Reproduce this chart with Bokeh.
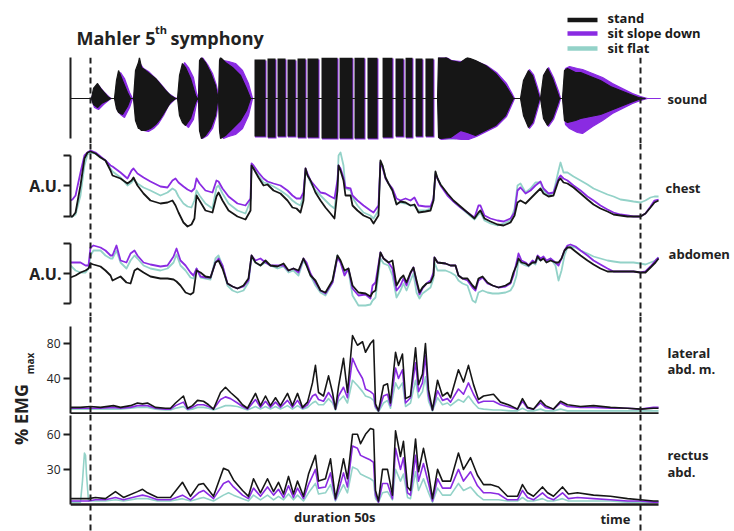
import numpy as np
from bokeh.plotting import figure
from bokeh.models import Range1d, Span, FixedTicker, LinearAxis
from bokeh.layouts import column, row
from bokeh.embed import file_html
from bokeh.resources import INLINE
from bokeh.core.properties import value

FONT = "Open Sans"
C_STAND = "#161616"
C_SLOPE = "#8a2be2"
C_FLAT = "#93d2c8"
INK = "#1e1e1e"

series_names = ["stand", "sit slope down", "sit flat"]
marks = [0.0, 50.0]          # start / end of the 50 s excerpt (s)

# ---------------- sound envelope (arbitrary amplitude) ----------------
snd_t_stand = [-1.82, 0.09, 0.27, 0.64, 1.0, 1.55, 1.82, 2.18, 2.36, 2.55, 2.91, 3.36, 3.64,
               3.91, 4.09, 4.36, 4.45, 4.64, 5.0, 5.45, 5.91, 6.36, 6.82, 7.27, 7.73,
               7.91, 8.09, 8.36, 8.64, 9.09, 9.55, 9.73, 9.82, 9.91, 10.09, 10.45, 10.91, 11.36, 11.55, 11.64,
               11.73, 11.82, 12.27, 12.91, 13.64, 14.18, 14.55,
               31.55, 31.64, 31.82, 32.73, 33.64, 34.27, 35.0, 35.91, 36.82, 37.73, 38.18, 38.45,
               39.09, 39.36, 39.82, 40.18, 40.55, 40.82, 40.91, 41.18, 41.55, 42.0, 42.45, 42.64,
               42.91, 43.09, 43.36, 44.09, 44.55, 45.45, 46.36, 47.27, 48.18, 49.09, 49.82, 50.45]
snd_up_stand = [0, 0, 10, 15, 9, 2, 0, 0, 18, 28, 18, 6, 0,
                0, 28, 36, 41, 31, 28, 24, 20, 14, 8, 3, 0,
                0, 23, 35, 31, 20, 3, 0, 0, 38, 41, 36, 26, 13, 3, 0,
                38, 41, 36, 31, 23, 10, 0,
                0, 43, 45, 38, 36, 41, 38, 33, 25, 13, 5, 0,
                0, 18, 28, 23, 10, 0, 0, 23, 30, 20, 6, 0,
                0, 28, 30, 26, 26, 22, 18, 12, 8, 4, 1, 0]
snd_dn_stand = [0, 0, -6, -9, -5, -2, 0, 0, -10, -14, -16, -8, 0,
                0, -22, -30, -30, -32, -32, -30, -26, -20, -12, -4, 0,
                0, -17, -24, -27, -20, -4, 0, 0, -32, -40, -37, -30, -17, -3, 0,
                -32, -40, -37, -30, -22, -12, 0,
                0, -39, -40, -39, -32, -34, -37, -32, -27, -17, -6, 0,
                0, -17, -29, -24, -10, 0, 0, -20, -27, -20, -6, 0,
                0, -22, -24, -22, -20, -18, -16, -12, -8, -4, -1, 0]
snd_t_slope = [-1.82, 0.09, 0.36, 0.73, 1.18, 1.73, 1.91, 2.27, 2.45, 2.73, 3.09, 3.55, 3.82,
               3.95, 4.18, 4.45, 4.82, 5.27, 5.73, 6.18, 6.64, 7.09, 7.64, 7.91,
               8.0, 8.27, 8.55, 8.91, 9.36, 9.64, 9.8, 9.95, 10.18, 10.64, 11.09, 11.45, 11.64, 11.7,
               11.8, 12.09, 12.55, 13.18, 13.82, 14.36, 14.73,
               31.64, 31.73, 31.91, 32.82, 33.73, 34.36, 35.09, 36.0, 36.91, 37.82, 38.27, 38.55,
               39.18, 39.45, 39.91, 40.27, 40.64, 40.91, 41.0, 41.27, 41.64, 42.09, 42.55, 42.73,
               42.95, 43.18, 43.55, 44.27, 44.73, 45.64, 46.55, 47.45, 48.36, 49.27, 50.0, 50.64, 51.82]
snd_up_slope = [0, 0, 9, 13, 7, 1, 0, 0, 16, 26, 20, 6, 0,
                0, 26, 36, 30, 27, 22, 17, 11, 5, 1, 0,
                0, 22, 36, 31, 21, 5, 0, 38, 41, 34, 25, 13, 3, 0,
                40, 38, 37, 35, 28, 15, 0,
                0, 42, 44, 38, 37, 40, 37, 33, 26, 15, 6, 0,
                0, 19, 29, 24, 11, 0, 0, 24, 31, 21, 7, 0,
                0, 30, 32, 30, 29, 25, 21, 15, 10, 5, 2, 0, 0]
snd_dn_slope = [0, 0, -9, -11, -6, -1, 0, 0, -12, -16, -19, -9, 0,
                0, -22, -30, -32, -33, -30, -25, -17, -7, -1, 0,
                0, -18, -25, -29, -21, -5, 0, -32, -40, -37, -30, -17, -3, 0,
                -35, -40, -38, -36, -30, -17, 0,
                0, -40, -41, -40, -41, -41, -38, -33, -28, -18, -7, 0,
                0, -18, -30, -25, -11, 0, 0, -21, -28, -21, -7, 0,
                0, -26, -30, -34, -35, -28, -22, -15, -10, -5, -2, 0, 0]
snd_t_flat = [-1.82, 0.09, 0.55, 1.27, 1.82, 2.18, 2.55, 3.45, 3.64, 3.91, 4.45, 5.45, 7.73,
              7.91, 8.45, 9.73, 9.82, 10.09, 11.55, 11.64, 11.82, 14.55,
              31.55, 31.82, 32.27, 33.18, 34.27, 35.91, 38.45, 39.09, 39.82, 40.82,
              40.91, 41.55, 42.64, 42.91, 43.36, 46.36, 50.45]
snd_up_flat = [0, 0, 12, 4, 0, 0, 22, 4, 0, 0, 34, 22, 0,
               0, 30, 0, 0, 38, 3, 0, 38, 0,
               0, 40, 38, 35, 36, 30, 0, 0, 25, 0,
               0, 27, 0, 0, 27, 15, 0]
snd_dn_flat = [0, 0, -11, -4, 0, 0, -13, -6, 0, 0, -28, -27, 0,
               0, -22, 0, 0, -38, -3, 0, -38, 0,
               0, -38, -41, -41, -35, -30, 0, 0, -26, 0,
               0, -24, 0, 0, -22, -14, 0]
# dense (fortissimo) bursts: onset / offset (s) and peak amplitudes
burst_on_stand = [14.91, 16.09, 17.0, 17.91, 18.82, 19.73, 21.0, 22.64, 24.0, 25.18, 26.55, 27.73, 28.64, 29.55, 30.45]
burst_off_stand = [15.91, 16.82, 17.73, 18.64, 19.55, 20.73, 22.45, 23.82, 24.91, 26.09, 27.45, 28.45, 29.27, 30.18, 31.18]
burst_top_stand = [39, 40, 40, 39, 40, 40, 41, 41, 41, 41, 41, 40, 41, 40, 40]
burst_bot_stand = [-38, -39, -38, -38, -39, -39, -40, -40, -40, -40, -39, -38, -39, -38, -38]
burst_on_slope = [14.95, 16.14, 17.05, 17.95, 18.86, 19.77, 21.05, 22.68, 24.05, 25.23, 26.6, 27.77, 28.68, 29.6, 30.5]
burst_off_slope = [16.0, 16.91, 17.82, 18.73, 19.64, 20.82, 22.55, 23.91, 25.0, 26.18, 27.55, 28.55, 29.36, 30.27, 31.27]
burst_top_slope = [38, 39, 39, 38, 39, 39, 40, 40, 40, 40, 40, 39, 40, 39, 39]
burst_bot_slope = [-39, -40, -39, -39, -40, -40, -41, -41, -41, -41, -40, -39, -40, -39, -39]

# ---------------- chest (A.U.) ----------------
chest_t = [-1.82, -1.64, -1.36, -0.91, -0.55, -0.27, 0.0, 0.45, 0.91, 1.36, 1.82, 2.0, 2.73, 3.36, 3.73, 3.91,
           4.27, 4.82, 5.45, 6.36, 7.0, 7.45, 7.73, 8.0, 8.45, 8.82, 9.18, 9.45, 9.64, 9.91, 10.45, 11.09,
           11.45, 11.64, 12.0, 12.55, 13.36, 14.09, 14.55, 14.64, 14.82, 15.27, 15.73, 16.09, 16.64, 17.27,
           17.91, 18.36, 18.73, 19.09, 19.36, 19.55, 19.73, 20.0, 20.45, 20.91, 21.36, 21.82, 22.18, 22.45,
           22.55, 22.73, 23.0, 23.18, 23.64, 23.82, 24.27, 24.82, 25.45, 25.73, 26.18, 26.36, 26.55, 26.82,
           27.09, 27.45, 27.82, 28.18, 28.64, 29.09, 29.45, 29.82, 30.45, 30.91, 31.18, 31.36, 31.55, 31.82,
           32.45, 33.0, 33.64, 34.27, 34.91, 35.27, 35.45, 35.82, 36.36, 37.0, 37.55, 38.18, 38.55, 38.82,
           39.09, 39.55, 40.0, 40.45, 40.91, 41.18, 41.64, 42.09, 42.55, 42.73, 43.0, 43.36, 43.91, 44.55,
           45.18, 45.73, 46.36, 47.0, 47.55, 48.18, 48.82, 49.36, 50.0, 50.45, 50.91, 51.27, 51.64]
chest_stand = [0, 0, 4, 31, 58, 64, 65, 63, 59, 56, 46, 41, 38, 33, 36, 39,
               31, 23, 16, 13, 14, 16, 11, 4, -6, -10, -8, -2, 21, 16, 6, 4,
               20, 24, 16, 6, 0, -3, 6, 51, 48, 39, 31, 32, 26, 23,
               16, 9, 8, 4, 16, 48, 41, 36, 24, 16, 9, 3, -2, 26,
               51, 46, 36, 21, 21, 11, 6, 1, -2, -7, 1, 56, 51, 39,
               33, 26, 12, 15, 14, 11, 12, 4, 5, 6, 16, 45, 38, 32,
               23, 16, 10, 4, -2, 4, 6, -2, -5, -8, -9, -6, 1, 14,
               16, 13, 18, 23, 28, 23, 20, 21, 36, 38, 34, 33, 29, 23,
               17, 12, 8, 5, 2, 1, 0, 0, 0, 3, 9, 14, 16]
chest_slope = [16, 17, 21, 44, 61, 64, 66, 64, 60, 56, 51, 50, 44, 38, 46, 48,
               43, 39, 35, 30, 29, 36, 38, 34, 30, 27, 25, 28, 38, 33, 26, 24,
               36, 35, 28, 20, 13, 11, 18, 53, 51, 44, 38, 35, 33, 31,
               26, 21, 18, 18, 24, 48, 43, 36, 30, 24, 23, 20, 18, 36,
               51, 48, 39, 29, 28, 21, 16, 11, 6, 4, 11, 54, 49, 38,
               33, 28, 18, 16, 18, 16, 19, 11, 10, 10, 18, 42, 38, 31,
               21, 15, 9, 4, -1, 11, 11, 1, -2, -4, -5, -2, 4, 26,
               29, 23, 26, 31, 35, 28, 23, 24, 38, 41, 38, 36, 31, 26,
               20, 16, 11, 7, 4, 2, 1, 0, 0, 3, 10, 16, 17]
chest_flat = [-1, 0, 2, 21, 51, 62, 64, 63, 59, 56, 48, 45, 39, 31, 34, 37,
              33, 29, 26, 21, 24, 28, 26, 20, 13, 10, 9, 16, 26, 21, 13, 8,
              29, 31, 23, 13, 6, 3, 16, 51, 48, 41, 34, 33, 30, 26,
              21, 16, 13, 11, 21, 46, 41, 34, 26, 21, 16, 11, 8, 31,
              61, 64, 51, 28, 26, 19, 11, 4, 1, -2, 6, 54, 51, 39,
              33, 26, 13, 14, 13, 11, 11, 6, 6, 8, 16, 44, 38, 32,
              22, 15, 9, 3, -3, 2, 4, -4, -7, -9, -7, -4, 8, 31,
              33, 24, 28, 34, 34, 26, 21, 24, 46, 54, 44, 44, 40, 36,
              32, 28, 25, 22, 20, 17, 16, 15, 14, 16, 19, 20, 20]

# ---------------- abdomen (A.U.) ----------------
abd_t = [-1.82, -1.36, -0.91, -0.45, -0.18, 0.0, 0.27, 0.91, 1.36, 1.82, 2.0, 2.36, 2.73, 3.27, 3.64, 4.0,
         4.27, 4.82, 5.45, 6.36, 7.0, 7.55, 7.82, 8.18, 8.64, 9.09, 9.36, 9.64, 10.0, 10.45, 10.91, 11.36,
         11.64, 12.0, 12.45, 12.91, 13.36, 13.91, 14.36, 14.64, 15.0, 15.45, 15.91, 16.36, 17.0, 17.55,
         18.0, 18.45, 18.91, 19.36, 19.64, 20.0, 20.45, 20.91, 21.36, 22.0, 22.45, 22.73, 23.09, 23.45,
         23.82, 24.36, 25.0, 25.45, 25.64, 25.91, 26.36, 26.64, 27.09, 27.45, 27.82, 28.18, 28.45, 28.73,
         29.09, 29.36, 29.64, 29.91, 30.18, 30.55, 30.91, 31.18, 31.27, 31.55, 32.27, 32.73, 33.18, 33.45,
         33.82, 34.27, 34.73, 35.0, 35.27, 35.64, 36.09, 36.55, 37.09, 37.73, 38.18, 38.45, 38.73, 38.91,
         39.18, 39.55, 39.82, 40.18, 40.45, 40.64, 40.91, 41.18, 41.45, 41.82, 42.27, 42.55, 42.82, 43.09,
         43.36, 43.64, 44.09, 44.55, 45.18, 45.73, 46.36, 47.0, 47.55, 48.18, 48.82, 49.36, 50.0, 50.45,
         50.91, 51.36, 51.64]
abd_stand = [26, 28, 31, 33, 35, 40, 39, 37, 33, 28, 23, 25, 27, 21, 20, 33,
             35, 31, 27, 25, 25, 24, 22, 18, 11, 9, 11, 33, 31, 27, 26, 41,
             43, 35, 20, 17, 15, 18, 25, 48, 41, 38, 43, 38, 37, 40,
             33, 35, 33, 45, 38, 28, 23, 13, 11, 23, 48, 43, 33, 35,
             18, 11, 10, 7, 11, 13, 51, 45, 41, 43, 18, 25, 28, 21,
             31, 36, 23, 11, 16, 20, 21, 28, 46, 41, 40, 38, 38, 28,
             25, 25, 18, 15, 25, 27, 21, 18, 16, 18, 21, 31, 38, 45,
             41, 40, 38, 41, 41, 47, 43, 45, 41, 43, 41, 41, 45, 53,
             56, 56, 52, 48, 43, 39, 35, 32, 32, 32, 32, 32, 31, 31,
             36, 41, 45]
abd_slope = [41, 41, 41, 38, 38, 56, 58, 56, 53, 48, 48, 58, 43, 41, 50, 53,
             48, 41, 39, 37, 38, 47, 55, 43, 38, 31, 28, 35, 27, 26, 26, 41,
             45, 38, 20, 17, 15, 17, 23, 48, 43, 45, 41, 38, 38, 38,
             33, 35, 31, 45, 41, 30, 21, 13, 10, 21, 46, 41, 28, 35,
             15, 8, 9, 5, 18, 21, 51, 45, 41, 35, 13, 18, 25, 18,
             30, 36, 21, 9, 15, 20, 23, 31, 46, 41, 40, 38, 38, 28,
             25, 23, 16, 13, 23, 26, 20, 18, 16, 17, 20, 28, 41, 50,
             43, 41, 38, 43, 41, 48, 45, 47, 43, 45, 41, 38, 45, 53,
             58, 59, 57, 53, 48, 43, 39, 35, 32, 32, 32, 32, 31, 32,
             37, 43, 46]
abd_flat = [38, 33, 31, 31, 35, 48, 53, 53, 48, 45, 45, 53, 41, 35, 43, 48,
            45, 38, 35, 33, 35, 41, 49, 38, 33, 26, 25, 35, 26, 25, 24, 45,
            48, 38, 18, 13, 11, 13, 21, 46, 41, 38, 41, 38, 35, 37,
            31, 33, 28, 43, 38, 28, 18, 11, 8, 21, 48, 41, 31, 33,
            8, -2, -2, -1, 3, 6, 45, 40, 38, 28, 6, 13, 20, 13,
            23, 30, 11, 5, 10, 13, 16, 25, 41, 33, 33, 31, 28, 23,
            20, 18, 3, 1, 11, 13, 11, 10, 10, 11, 13, 18, 28, 43,
            40, 38, 37, 41, 39, 45, 43, 46, 42, 45, 38, 23, 33, 48,
            56, 57, 56, 53, 50, 47, 45, 43, 42, 41, 41, 41, 40, 39,
            41, 43, 46]

# ---------------- lateral abdominal muscles (% EMG max) ----------------
lat_t = [-1.82, -0.91, 0.0, 0.91, 2.09, 2.73, 3.64, 4.27, 4.73, 5.18,
         5.91, 6.82, 7.27, 7.73, 8.09, 8.45, 8.82, 9.27, 9.73, 10.27,
         10.73, 11.18, 11.82, 12.27, 12.73, 13.36, 13.82, 14.27, 15.0, 15.45,
         15.91, 16.36, 16.82, 17.27, 17.91, 18.36, 18.82, 19.27, 19.73, 20.18,
         20.45, 20.73, 21.18, 21.64, 22.0, 22.27, 22.55, 23.0, 23.36, 23.82,
         24.27, 24.73, 25.0, 25.45, 25.73, 25.91, 26.18, 26.64, 27.0, 27.27,
         27.73, 28.0, 28.36, 28.64, 29.09, 29.55, 29.82, 30.18, 30.45, 30.73,
         31.09, 31.55, 32.0, 32.45, 32.73, 33.45, 33.91, 34.36, 34.82, 35.27,
         35.73, 36.64, 37.27, 38.18, 38.82, 39.27, 39.73, 40.27, 40.91, 41.36,
         42.09, 42.73, 43.36, 44.55, 45.73, 47.27, 48.82, 50.0, 51.18, 51.64]
lat_stand = [7, 7, 8, 7, 9, 7, 9, 12, 11, 12,
             7, 6, 6, 12, 16, 20, 6, 9, 15, 14,
             10, 5, 24, 30, 24, 17, 10, 6, 23, 9,
             20, 9, 18, 9, 23, 9, 23, 7, 13, 35,
             55, 24, 20, 43, 24, 5, 31, 63, 24, 89,
             78, 82, 70, 80, 84, 11, 3, 32, 34, 12,
             70, 55, 68, 17, 20, 75, 33, 45, 80, 27,
             4, 38, 20, 24, 18, 50, 36, 55, 33, 16,
             20, 22, 13, 9, 5, 17, 7, 5, 15, 9,
             5, 14, 10, 8, 9, 7, 6, 5, 6, 6]
lat_slope = [6, 6, 6, 6, 7, 6, 7, 9, 9, 9,
             6, 5, 5, 9, 11, 13, 5, 7, 10, 10,
             8, 5, 16, 19, 17, 12, 8, 5, 16, 7,
             14, 7, 13, 7, 15, 7, 15, 6, 10, 20,
             22, 16, 14, 24, 17, 5, 20, 30, 18, 63,
             50, 40, 28, 25, 22, 8, 3, 20, 22, 9,
             52, 40, 50, 12, 18, 58, 25, 35, 66, 20,
             4, 26, 15, 17, 13, 28, 22, 35, 22, 12,
             14, 14, 10, 7, 5, 14, 6, 5, 12, 7,
             5, 12, 8, 7, 7, 6, 6, 5, 7, 7]
lat_flat = [5, 5, 5, 5, 5, 5, 6, 7, 7, 7,
            5, 4, 4, 6, 7, 8, 4, 5, 7, 7,
            6, 4, 7, 9, 9, 8, 6, 4, 8, 5,
            8, 5, 8, 5, 9, 5, 9, 5, 7, 12,
            14, 10, 10, 17, 12, 4, 14, 20, 12, 38,
            32, 25, 20, 18, 15, 6, 2, 12, 15, 6,
            35, 28, 35, 8, 12, 38, 18, 25, 42, 14,
            3, 18, 10, 12, 9, 16, 13, 20, 12, 6,
            5, 4, 4, 3, 3, 6, 3, 3, 5, 3,
            3, 5, 3, 3, 3, 3, 3, 3, 3, 3]

# ---------------- rectus abdominis (% EMG max) ----------------
rec_t = [-1.82, -0.91, -0.73, -0.55, -0.45, -0.36, -0.18, 0.45, 1.36, 2.27,
         3.0, 4.27, 4.73, 5.18, 6.09, 7.27, 8.36, 9.09, 9.82, 10.27,
         11.18, 12.09, 12.55, 13.0, 13.82, 14.36, 14.82, 15.45, 16.09, 16.64,
         17.09, 17.55, 18.0, 18.45, 18.82, 19.36, 19.82, 20.45, 20.73, 21.36,
         21.82, 22.27, 22.73, 23.0, 23.36, 23.82, 24.27, 24.55, 25.0, 25.45,
         25.73, 25.91, 26.18, 26.55, 27.0, 27.45, 27.73, 28.18, 28.45, 28.82,
         29.09, 29.55, 29.82, 30.27, 30.73, 31.09, 31.55, 32.0, 32.73, 33.45,
         33.91, 34.55, 35.18, 35.73, 36.36, 37.09, 37.91, 38.82, 39.27, 39.73,
         40.27, 41.09, 41.55, 42.09, 42.91, 43.45, 44.27, 45.73, 47.27, 48.82,
         50.0, 51.18, 51.64]
rec_stand = [5, 5, 5, 5, 5, 5, 5, 6, 5, 11,
             6, 11, 13, 10, 6, 6, 19, 7, 17, 18,
             7, 31, 29, 21, 12, 7, 22, 10, 22, 11,
             19, 9, 24, 9, 20, 7, 26, 42, 20, 22,
             39, 5, 26, 39, 22, 60, 60, 52, 60, 65,
             64, 12, 3, 30, 30, 8, 63, 41, 54, 15,
             12, 56, 28, 48, 27, 5, 30, 20, 20, 44,
             30, 40, 25, 17, 17, 15, 7, 7, 17, 10,
             7, 15, 10, 7, 15, 9, 10, 8, 7, 5,
             4, 3, 3]
rec_slope = [3, 3, 3, 3, 3, 3, 3, 4, 4, 6,
             4, 7, 8, 7, 4, 4, 8, 4, 10, 12,
             5, 18, 20, 15, 8, 5, 14, 7, 15, 8,
             13, 6, 16, 6, 14, 5, 17, 30, 14, 15,
             27, 4, 18, 27, 15, 50, 48, 42, 40, 38,
             36, 8, 2, 18, 18, 5, 48, 30, 40, 10,
             8, 42, 20, 35, 18, 3, 22, 14, 14, 30,
             20, 28, 16, 10, 10, 9, 4, 4, 12, 6,
             4, 10, 6, 4, 10, 5, 6, 5, 4, 3,
             3, 2, 2]
rec_flat = [2, 2, 20, 44, 42, 25, 3, 3, 3, 4,
            3, 5, 5, 5, 3, 3, 5, 3, 5, 6,
            3, 8, 10, 8, 5, 3, 8, 4, 8, 4,
            7, 4, 9, 4, 8, 3, 10, 18, 9, 10,
            17, 3, 12, 17, 10, 32, 30, 26, 24, 22,
            20, 5, 2, 10, 11, 4, 30, 20, 26, 6,
            5, 28, 12, 22, 10, 2, 14, 8, 8, 18,
            12, 15, 8, 4, 4, 4, 3, 3, 6, 3,
            3, 5, 3, 3, 5, 3, 3, 3, 3, 2,
            2, 2, 2]

# ====================== figure construction ======================
W = 734
LEFT = 70
XR = Range1d(-20 / 11, 644 / 11)   # seconds; 11 px per second


def base_fig(width, height, xr, yr, left=0):
    p = figure(width=width, height=height, x_range=xr, y_range=yr,
               output_backend="svg", toolbar_location=None,
               x_axis_location=None, y_axis_location=None,
               min_border_left=left, min_border_right=0,
               min_border_top=0, min_border_bottom=0)
    p.outline_line_color = None
    p.grid.visible = False
    p.background_fill_color = "white"
    p.border_fill_color = "white"
    return p


def panel(height, yr, width=W, left=LEFT):
    p = base_fig(width, height, XR, yr, left)
    for m in marks:
        p.add_layout(Span(location=m, dimension="height", line_color=INK,
                          line_width=2, line_dash="6 4"))
    return p


def left_axis(p, bounds, ticks, overrides=None, size="12px", style="normal", standoff=3):
    ax = LinearAxis(bounds=bounds, ticker=FixedTicker(ticks=ticks),
                    axis_line_color=INK, axis_line_width=2,
                    major_tick_line_color=INK, major_tick_line_width=2,
                    major_tick_in=0, major_tick_out=7,
                    minor_tick_line_color=None,
                    major_label_text_font=FONT, major_label_text_font_size=size,
                    major_label_text_font_style=style, major_label_text_color="#222",
                    major_label_standoff=standoff)
    if overrides is not None:
        ax.major_label_overrides = overrides
    p.add_layout(ax, "left")
    return ax


def side_label(p, x, ys, texts, size="13px"):
    p.text(x=[x] * len(texts), y=ys, text=texts, text_font=value(FONT),
           text_font_size=size, text_font_style="bold", text_color="#222",
           text_align="left", text_baseline="middle")


# ---- header (title + legend), page-pixel layout coordinates ----
hdr = base_fig(W, 57, Range1d(LEFT, W), Range1d(57, 0), left=LEFT)
hdr.text(x=[76], y=[37], text=["Mahler 5"], text_font=value(FONT), text_font_size="18px",
         text_font_style="bold", text_color="#222", text_baseline="alphabetic")
hdr.text(x=[154.5], y=[29], text=["th"], text_font=value(FONT), text_font_size="11px",
         text_font_style="bold", text_color="#222", text_baseline="alphabetic")
hdr.text(x=[170], y=[37], text=["symphony"], text_font=value(FONT), text_font_size="18px",
         text_font_style="bold", text_color="#222", text_baseline="alphabetic")
leg_y_line = [19.5, 33, 48]
leg_y_text = [17, 32.5, 47]
hdr.segment(x0=[567] * 3, x1=[597] * 3, y0=leg_y_line, y1=leg_y_line,
            line_color=[C_STAND, C_SLOPE, C_FLAT], line_width=4.5)
hdr.text(x=[607] * 3, y=leg_y_text, text=series_names, text_font=value(FONT),
         text_font_size="13px", text_font_style="bold", text_color="#1a1a1a",
         text_baseline="middle")

# ---- sound ----
ps = panel(86, Range1d(-45, 41))
ps.varea(x=snd_t_flat, y1=snd_dn_flat, y2=snd_up_flat, fill_color=C_FLAT)
ps.varea(x=snd_t_slope, y1=snd_dn_slope, y2=snd_up_slope, fill_color=C_SLOPE)
ps.quad(left=burst_on_slope, right=burst_off_slope, top=burst_top_slope,
        bottom=burst_bot_slope, fill_color=C_SLOPE, line_color=None)
ps.line(snd_t_slope, snd_up_slope, line_color=C_SLOPE, line_width=1.2)
ps.line(snd_t_slope, snd_dn_slope, line_color=C_SLOPE, line_width=1.2)
ps.varea(x=snd_t_stand, y1=snd_dn_stand, y2=snd_up_stand, fill_color=C_STAND)
ps.quad(left=burst_on_stand, right=burst_off_stand, top=burst_top_stand,
        bottom=burst_bot_stand, fill_color=C_STAND, line_color=None)
ps.line(snd_t_stand, snd_up_stand, line_color=C_STAND, line_width=1.2)
ps.line(snd_t_stand, snd_dn_stand, line_color=C_STAND, line_width=1.2)
left_axis(ps, (-40, 41), [])
ps.yaxis.major_label_text_font_size = "0px"
side_label(ps, 52.45, [0], ["sound"])

# ---- chest ----
pc = panel(89, Range1d(-16, 73))
for ys, col in ((chest_flat, C_FLAT), (chest_slope, C_SLOPE), (chest_stand, C_STAND)):
    pc.line(chest_t, ys, line_color=col, line_width=1.8, line_join="round")
left_axis(pc, (0, 61), [0, 31, 61], {0: "", 31: "A.U.", 61: ""}, size="16px", style="bold", standoff=2)
side_label(pc, 52.27, [29], ["chest"])

# ---- abdomen ----
pa = panel(84, Range1d(-13, 71))
for ys, col in ((abd_flat, C_FLAT), (abd_slope, C_SLOPE), (abd_stand, C_STAND)):
    pa.line(abd_t, ys, line_color=col, line_width=1.8, line_join="round")
left_axis(pa, (0, 60), [0, 30, 60], {0: "", 30: "A.U.", 60: ""}, size="16px", style="bold", standoff=2)
side_label(pa, 52.55, [50], ["abdomen"])

# ---- lateral abd. m. ----
STRIP = 36
pl = panel(98, Range1d(-1.14, 110.86), width=W - STRIP, left=LEFT - STRIP)
for ys, col in ((lat_flat, C_FLAT), (lat_slope, C_SLOPE), (lat_stand, C_STAND)):
    pl.line(lat_t, ys, line_color=col, line_width=1.6, line_join="round")
pl.segment(x0=[lat_t[0]], x1=[lat_t[-1]], y0=[0], y1=[0], line_color=INK, line_width=2.5)
left_axis(pl, (0, 100), [40, 80])
side_label(pl, 52.45, [69.7, 51.4], ["lateral", "abd. m."])

# ---- rectus abd. ----
pr = panel(117, Range1d(-23.08, 76.92), width=W - STRIP, left=LEFT - STRIP)
for ys, col in ((rec_flat, C_FLAT), (rec_slope, C_SLOPE), (rec_stand, C_STAND)):
    pr.line(rec_t, ys, line_color=col, line_width=1.6, line_join="round")
pr.segment(x0=[rec_t[0]], x1=[rec_t[-1]], y0=[0], y1=[0], line_color=INK, line_width=2.5)
left_axis(pr, (0, 76), [30, 60])
side_label(pr, 52.45, [41.9, 27.4], ["rectus", "abd."])
pr.text(x=[22.36], y=[-11.1], text=["duration  50s"], text_font=value(FONT),
        text_font_size="13px", text_font_style="bold", text_color="#222",
        text_align="center", text_baseline="middle")
pr.text(x=[46.36], y=[-12.5], text=["time"], text_font=value(FONT),
        text_font_size="13px", text_font_style="bold", text_color="#222",
        text_align="left", text_baseline="middle")

# ---- strip holding the shared EMG axis title ----
strip = base_fig(STRIP, 98 + 117, Range1d(0, STRIP), Range1d(531, 316), left=0)
strip.text(x=[20], y=[414], text=["% EMG"], angle=np.pi / 2, text_font=value(FONT),
           text_font_size="18px", text_font_style="bold", text_color="#222",
           text_align="center", text_baseline="middle")
strip.text(x=[29.5], y=[363], text=["max"], angle=np.pi / 2, text_font=value(FONT),
           text_font_size="10px", text_font_style="bold", text_color="#222",
           text_align="center", text_baseline="middle")

layout = column(hdr, ps, pc, pa, row(strip, column(pl, pr)))

open("out.html", "w").write(file_html(layout, INLINE))
